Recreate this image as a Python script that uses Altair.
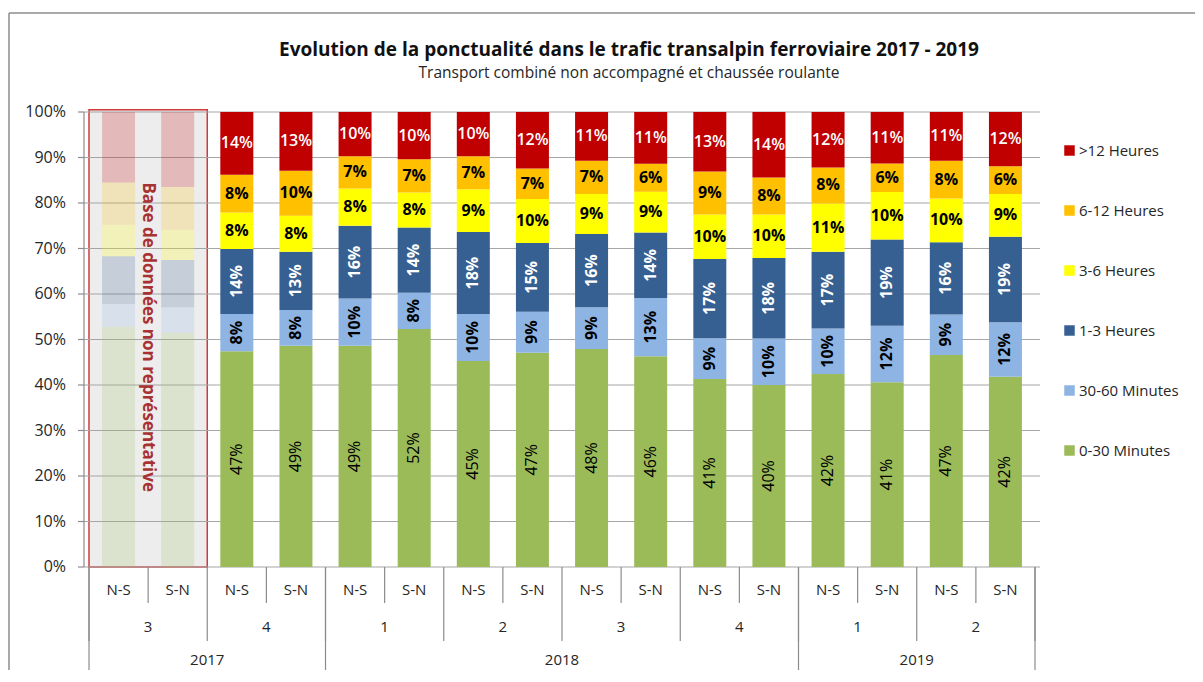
import altair as alt
import pandas as pd

# ---- data ----
years = ["2017", "2017", "2017", "2017",
         "2018", "2018", "2018", "2018", "2018", "2018", "2018", "2018",
         "2019", "2019", "2019", "2019"]
quarters = ["3", "3", "4", "4", "1", "1", "2", "2", "3", "3", "4", "4", "1", "1", "2", "2"]
directions = ["N-S", "S-N"] * 8
faded = [1, 1] + [0] * 14   # 2017 Q3: base de données non représentative

classes = ["0-30 Minutes", "30-60 Minutes", "1-3 Heures", "3-6 Heures", "6-12 Heures", ">12 Heures"]
colors = ["#9BBB59", "#8DB4E2", "#376092", "#FFFF00", "#FFC000", "#C00000"]

v_0_30 = [52.8, 51.5, 47.4, 48.6, 48.6, 52.3, 45.3, 47.1, 47.9, 46.3, 41.3, 40.0, 42.4, 40.6, 46.6, 41.8]
v_30_60 = [5.0, 5.6, 8.2, 7.9, 10.4, 8.0, 10.3, 9.0, 9.2, 12.8, 9.0, 10.2, 10.0, 12.4, 8.9, 12.0]
v_1_3 = [10.5, 10.4, 14.3, 12.8, 16.0, 14.3, 18.0, 15.1, 16.1, 14.4, 17.4, 17.7, 16.9, 19.0, 15.9, 18.8]
v_3_6 = [6.9, 6.6, 8.0, 7.9, 8.2, 7.7, 9.4, 9.7, 8.8, 9.0, 9.8, 9.6, 10.6, 10.4, 9.6, 9.4]
v_6_12 = [9.3, 9.4, 8.3, 9.9, 7.1, 7.3, 7.3, 6.7, 7.3, 6.1, 9.4, 8.1, 7.9, 6.3, 8.3, 6.1]
v_12 = [15.5, 16.5, 13.8, 12.9, 9.7, 10.4, 9.7, 12.4, 10.7, 11.4, 13.1, 14.4, 12.2, 11.3, 10.7, 11.9]
series = [v_0_30, v_30_60, v_1_3, v_3_6, v_6_12, v_12]

y_ticks = [0, 10, 20, 30, 40, 50, 60, 70, 80, 90, 100]

rows = []
for i in range(len(directions)):
    for k, (cls, vals) in enumerate(zip(classes, series)):
        rows.append({"idx": i, "xc": i + 0.5, "cls": cls, "ord": k, "value": vals[i],
                     "faded": faded[i], "label": f"{int(round(vals[i]))}%"})
df = pd.DataFrame(rows)

# axis tables (derived from the category lists)
dir_df = pd.DataFrame({"xc": [i + 0.5 for i in range(len(directions))], "t": directions})
q_df = pd.DataFrame({"xc": [i + 1 for i in range(0, len(quarters), 2)], "t": quarters[0::2]})
yr_names, yr_start, yr_end = [], [], []
for i, y in enumerate(years):
    if not yr_names or yr_names[-1] != y:
        yr_names.append(y)
        yr_start.append(i)
        yr_end.append(i + 1)
    else:
        yr_end[-1] = i + 1
yr_df = pd.DataFrame({"xc": [(a + b) / 2 for a, b in zip(yr_start, yr_end)], "t": yr_names})
short_sep = pd.DataFrame({"b": [i + 1 for i in range(0, len(directions), 2)]})
q_sep = pd.DataFrame({"b": list(range(0, len(directions) + 1, 2))})
yr_sep = pd.DataFrame({"b": yr_start + [len(directions)]})
ytick_df = pd.DataFrame({"v": y_ticks, "t": [f"{v}%" for v in y_ticks]})
frame_df = pd.DataFrame({"x0": [0], "x1": [2], "y0": [0], "y1": [100.5]})
note_df = pd.DataFrame({"xc": [1], "yc": [50.5], "t": ["Base de données non représentative"]})

W, H = 956, 455
FONT = "Open Sans"
SEP = "#8c8c8c"
xs = alt.Scale(domain=[0, 16], nice=False, zero=False)
ys = alt.Scale(domain=[0, 100], nice=False)

def XQ(f):
    return alt.X(f, type="quantitative", scale=xs, axis=None)

def YQ(f, **kw):
    return alt.Y(f, type="quantitative", scale=ys, axis=None, **kw)

frame = alt.Chart(frame_df).mark_rect(fill="#ededed", stroke="#D03A3A", strokeWidth=1.5).encode(
    x=XQ("x0"), x2="x1", y=YQ("y0"), y2="y1")

# y axis drawn from the tick list through the y scale
grid = alt.Chart(ytick_df).mark_rule(color="#a6a6a6", strokeWidth=1.2).encode(
    y=YQ("v"), x=alt.value(0), x2=alt.value(W))
ticks = alt.Chart(ytick_df).mark_rule(color=SEP, strokeWidth=1.2).encode(
    y=YQ("v"), x=alt.value(-6), x2=alt.value(0))
ylabels = alt.Chart(ytick_df).mark_text(font=FONT, fontSize=16, color="#262626",
                                        align="right", baseline="middle").encode(
    y=YQ("v"), x=alt.value(-18), text="t:N")
ydomain = alt.Chart(frame_df).mark_rule(color=SEP, strokeWidth=1.2).encode(
    x=alt.value(0), y=alt.value(0), y2=alt.value(H))

bars = alt.Chart(df).mark_bar(width=33).encode(
    x=XQ("xc"),
    y=YQ("value", stack="zero"),
    color=alt.Color("cls:N", scale=alt.Scale(domain=classes[::-1], range=colors[::-1]),
                    legend=alt.Legend(title=None, orient="none", legendX=978, legendY=31,
                                      symbolType="square", symbolSize=110, symbolStrokeWidth=0,
                                      labelFontSize=15, labelFont=FONT, labelColor="#262626",
                                      rowPadding=44, labelOffset=2)),
    order=alt.Order("ord:Q"),
    opacity=alt.condition("datum.faded == 1", alt.value(0.22), alt.value(1.0)),
)

lab = (alt.Chart(df)
       .transform_filter("datum.faded == 0")
       .transform_window(cum="sum(value)", groupby=["idx"], sort=[alt.SortField("ord")],
                         frame=[None, 0])
       .transform_calculate(mid="datum.cum - datum.value / 2"))

def txt(filter_expr, color, weight, angle):
    return lab.transform_filter(filter_expr).mark_text(
        font=FONT, fontSize=16, fontWeight=weight, color=color, angle=angle,
        align="center", baseline="middle").encode(x=XQ("xc"), y=YQ("mid"), text="label:N")

t_red = txt("datum.cls == '>12 Heures'", "white", 600, 0)
t_oy = txt("datum.cls == '6-12 Heures' || datum.cls == '3-6 Heures'", "black", "bold", 0)
t_dark = txt("datum.cls == '1-3 Heures'", "white", "bold", 270)
t_lb = txt("datum.cls == '30-60 Minutes'", "black", "bold", 270)
t_gr = txt("datum.cls == '0-30 Minutes'", "black", "normal", 270)

note = alt.Chart(note_df).mark_text(font=FONT, fontSize=17, fontWeight="bold", color="#A83232",
                                     angle=90, align="center", baseline="middle").encode(
    x=XQ("xc"), y=YQ("yc"), text="t:N")

def seps(d, y2):
    return alt.Chart(d).mark_rule(color=SEP, strokeWidth=1.2).encode(
        x=XQ("b"), y=alt.value(H), y2=alt.value(y2))

s1 = seps(short_sep, 491)
s2 = seps(q_sep, 529)
s3 = seps(yr_sep, 575)

def axis_text(d, y):
    return alt.Chart(d).mark_text(font=FONT, fontSize=15, color="#262626",
                                  align="center", baseline="middle").encode(
        x=XQ("xc"), y=alt.value(y), text="t:N")

a1 = axis_text(dir_df, 478)
a2 = axis_text(q_df, 515)
a3 = axis_text(yr_df, 548)

outer_top = alt.Chart(frame_df).mark_rule(color="#8c8c8c", strokeWidth=1.5).encode(
    x=alt.value(-75), x2=alt.value(W + 170), y=alt.value(-99))
outer_left = alt.Chart(frame_df).mark_rule(color="#8c8c8c", strokeWidth=1.5).encode(
    x=alt.value(-75), y=alt.value(-99), y2=alt.value(H + 120))

chart = alt.layer(
    frame, grid, ticks, ydomain, ylabels, bars, note,
    t_red, t_oy, t_dark, t_lb, t_gr, s1, s2, s3, a1, a2, a3, outer_top, outer_left
).properties(
    width=W, height=H,
    title=alt.TitleParams(
        text="Evolution de la ponctualité dans le trafic transalpin ferroviaire 2017 - 2019",
        subtitle="Transport combiné non accompagné et chaussée roulante",
        font=FONT, fontSize=19, fontWeight="bold", color="#111111",
        subtitleFont=FONT, subtitleFontSize=15.5, subtitleColor="#262626",
        subtitlePadding=6, anchor="middle", frame="group", dx=67, offset=-69),
    padding={"left": 76, "top": 104, "right": 155, "bottom": 103},
    autosize=alt.AutoSizeParams(type="none"),
).configure_view(stroke="transparent")

chart.save("out.html", embed_options={"renderer": "svg", "actions": False})
